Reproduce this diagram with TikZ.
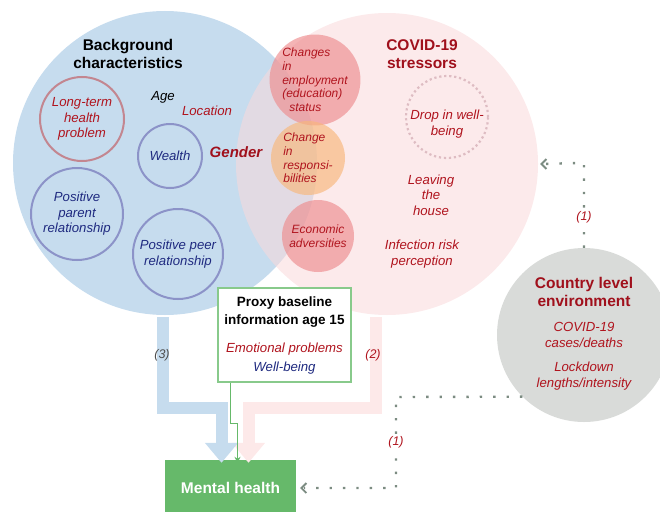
\documentclass[tikz,border=0pt]{standalone}
\usepackage{fontspec}
\setmainfont{Liberation Sans}
\usetikzlibrary{arrows.meta,calc}
\definecolor{bgblue}{HTML}{C6DCEE}
\definecolor{stpink}{HTML}{F9D9DB}
\definecolor{darkred}{HTML}{A0101C}
\definecolor{txtred}{HTML}{B0141E}
\definecolor{txtblue}{HTML}{1F2A80}
\definecolor{ringblue}{HTML}{8C93C8}
\definecolor{ringred}{HTML}{C38690}
\definecolor{dotgray}{HTML}{7C8C82}
\definecolor{mhgreen}{HTML}{66B96A}
\definecolor{boxgreen}{HTML}{88CA8B}
\definecolor{envgray}{HTML}{D9DBD9}
\definecolor{empred}{HTML}{EE8C8E}
\definecolor{resporange}{HTML}{F8B77A}
\definecolor{arrpink}{HTML}{FDE9E9}
\begin{document}
\begin{tikzpicture}[x=1pt,y=-1pt,
    ttl/.style={font=\fontsize{15.5}{18}\selectfont\bfseries,align=center},
    it/.style={font=\fontsize{13.2}{15.5}\selectfont\itshape,align=center},
    sm/.style={font=\fontsize{12}{13.7}\selectfont\itshape,text=txtred},
    ring/.style={circle,draw,line width=2pt,inner sep=0pt},
    blob/.style={circle,inner sep=0pt,fill opacity=.65,text opacity=1},
    dots/.style={dotgray,line width=2.4pt,dash pattern=on 2.4pt off 11pt},
    lbl/.style={font=\fontsize{12.5}{14}\selectfont\itshape,inner sep=1pt}]
    \useasboundingbox (0,0) rectangle (660,511);
    \clip (0,0) rectangle (660,511);
    % big sets
    \node[circle,fill=bgblue,minimum size=304pt] (bg) at (165,163) {};
    \node[circle,fill=stpink,fill opacity=.55,minimum size=302pt] (cs) at (387,164) {};
    \node[ttl] at (128,54) {Background\\characteristics};
    \node[ttl,text=darkred] at (422,54) {COVID-19\\stressors};
    % background characteristics
    \node[it] at (163,97) {Age};
    \node[it,text=txtred] at (207,111) {Location};
    \node[font=\fontsize{15}{18}\selectfont\bfseries\itshape,text=darkred] at (236,152) {Gender};
    \node[ring,draw=ringred,minimum size=84pt,it,text=txtred] (lth) at (82,119) {Long-term\\health\\problem};
    \node[ring,draw=ringblue,minimum size=64pt,it,text=txtblue] (wlth) at (170,156) {Wealth};
    \node[ring,draw=ringblue,minimum size=92pt,it,text=txtblue] (ppar) at (77,214) {Positive\\parent\\relationship};
    \node[ring,draw=ringblue,minimum size=90pt,it,text=txtblue] (ppeer) at (178,254) {Positive peer\\relationship};
    % stressors
    \node[blob,fill=empred,minimum size=78pt,sm,align=left] (emp) at (315,80) {Changes\\in\\employment\\(education)\\\hspace{7pt}status};
    \node[blob,fill=resporange,minimum size=74pt,sm,align=left] (resp) at (308,158) {Change\\in\\responsi-\\bilities};
    \node[blob,fill=empred,minimum size=72pt,sm,align=center] (econ) at (318,236) {Economic\\adversities};
    \node[circle,draw=ringred!55,line width=2.2pt,dash pattern=on 2.2pt off 2.8pt,minimum size=82pt,inner sep=0pt] (drop) at (447,117) {};
    \node[it,text=txtred] at (447,124) {Drop in well-\\being};
    \node[it,text=txtred] at (431,195) {Leaving\\the\\house};
    \node[it,text=txtred] at (422,254) {Infection risk\\perception};
    % country level
    \node[circle,fill=envgray,minimum size=174pt] (ctry) at (584,335) {};
    \node[ttl,text=darkred] at (584,292) {Country level\\environment};
    \node[it,text=txtred] at (584,335) {COVID-19\\cases/deaths};
    \node[it,text=txtred] at (584,376) {Lockdown\\lengths/intensity};
    % outcome
    \node[fill=mhgreen,minimum width=131pt,minimum height=56pt,inner sep=0pt,
        font=\fontsize{15.5}{18}\selectfont\bfseries,text=white] (mh) at (230.5,488) {Mental health};
    % thick arrows
    \draw[arrpink,line width=12pt,-{Triangle[width=32pt,length=20pt]}]
        ([xshift=-11.5pt,yshift=-2pt]cs.south) -- ++(0,91) -| ([xshift=18pt,yshift=-3pt]mh.north);
    \draw[bgblue,line width=12pt,-{Triangle[width=32pt,length=20pt]}]
        ([xshift=-2pt,yshift=-2pt]bg.south) -- ++(0,91) -| ([xshift=-9pt,yshift=-3pt]mh.north);
    \node[lbl,text=black!70] at (162,355) {(3)};
    \node[lbl,text=txtred] at (373,355) {(2)};
    % baseline
    \node[draw=boxgreen,fill=white,line width=2pt,minimum width=133pt,minimum height=94pt] (proxy) at (284.5,335) {};
    \node[font=\fontsize{13.5}{17.5}\selectfont\bfseries,align=center] at (284.5,312) {Proxy baseline\\information age 15};
    \node[it,text=txtred] at (284.5,349) {Emotional problems};
    \node[it,text=txtblue] at (284.5,368) {Well-being};
    \draw[mhgreen,line width=.8pt,-{Stealth[length=6pt,width=6pt]}]
        (proxy.south -| mh.north) -- ++(0,40) -| ([xshift=7pt,yshift=-3pt]mh.north);
    % dotted arrows
    \coordinate (turn) at (396,397);
    \draw[dots] (ctry.north) -- node[lbl,text=txtred,fill=white,pos=.36]{(1)} ++(0,-85) -- ([xshift=4pt]cs.east);
    \draw[dotgray,line width=1.8pt,-{Straight Barb[length=5pt,width=10pt]}] ([xshift=5pt]cs.east) -- ([xshift=2pt]cs.east);
    \draw[dots] (ctry.225) -- (turn) -- node[lbl,text=txtred,fill=white,pos=.5]{(1)} (turn |- mh.east) -- ([xshift=8pt]mh.east);
    \draw[dotgray,line width=1.8pt,-{Straight Barb[length=5pt,width=10pt]}] ([xshift=7pt]mh.east) -- ([xshift=4pt]mh.east);
\end{tikzpicture}
\end{document}
